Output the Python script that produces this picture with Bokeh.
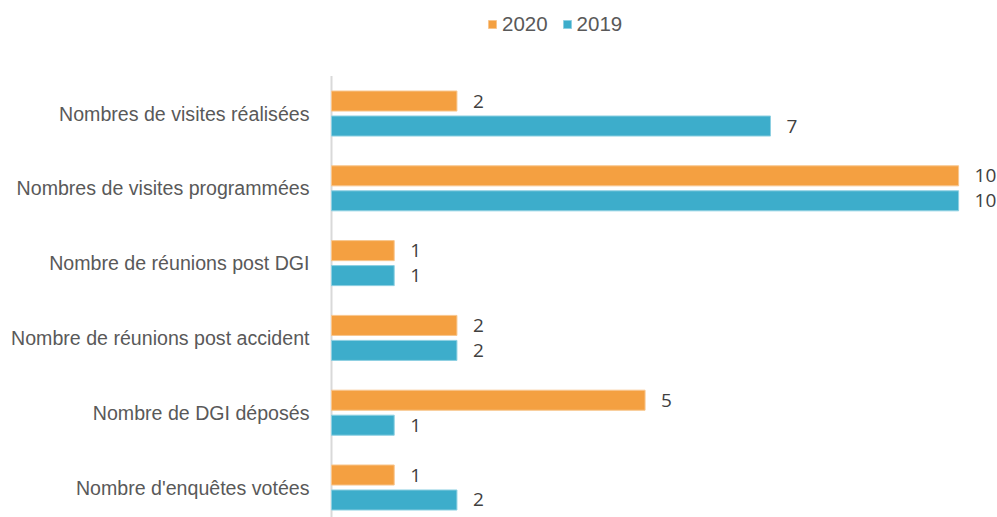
from bokeh.plotting import figure
from bokeh.models import ColumnDataSource, Range1d, FixedTicker, Legend, LegendItem
from bokeh.core.properties import value
from bokeh.embed import file_html
from bokeh.resources import INLINE

categories = [
    "Nombres de visites réalisées",
    "Nombres de visites programmées",
    "Nombre de réunions post DGI",
    "Nombre de réunions post accident",
    "Nombre de DGI déposés",
    "Nombre d'enquêtes votées",
]
values_2020 = [2, 10, 1, 2, 5, 1]
values_2019 = [7, 10, 1, 2, 1, 2]
series_names = ["2020", "2019"]
colors = ["#F4A041", "#3DADCB"]
border_colors = ["#F8C68E", "#8ED0E2"]

idx = list(range(len(categories)))
W, H = 997, 517
p = figure(width=W, height=H, output_backend="svg", toolbar_location=None,
           x_range=Range1d(-0.032, 10.62), y_range=Range1d(5.401, -1.511),
           min_border_left=329, min_border_right=0, min_border_top=0, min_border_bottom=0)
p.outline_line_color = None
p.xgrid.visible = False
p.ygrid.visible = False
p.xaxis.visible = False
p.background_fill_color = "white"
p.border_fill_color = "white"

# vertical axis line (value 0), from the top of the category band to the bottom
p.segment(x0=[0], y0=[-0.5], x1=[0], y1=[len(categories)], line_color="#D9D9D9", line_width=2)

off = 0.167
bh = 0.268
renderers = []
for k, (vals, name) in enumerate([(values_2020, "2020"), (values_2019, "2019")]):
    o = -off if k == 0 else off
    src = ColumnDataSource(dict(y=[i + o for i in idx], v=vals, t=[str(v) for v in vals]))
    r = p.hbar(y="y", right="v", left=0, height=bh, source=src,
               fill_color=colors[k], line_color=border_colors[k], line_width=1)
    renderers.append(r)
    p.text(x="v", y="y", text="t", source=src, x_offset=16,
           text_align="left", text_baseline="middle",
           text_font=value("Open Sans"), text_font_size="19px", text_color="#404040")

yax = p.yaxis[0]
yax.ticker = FixedTicker(ticks=idx)
yax.major_label_overrides = {i: c for i, c in zip(idx, categories)}
yax.major_label_text_font = "Liberation Sans"
yax.major_label_text_font_size = "19.6px"
yax.major_label_text_color = "#595959"
yax.major_label_standoff = 14
yax.major_tick_line_color = None
yax.minor_tick_line_color = None
yax.axis_line_color = None

legend = Legend(items=[LegendItem(label=n, renderers=[r]) for n, r in zip(series_names, renderers)],
                orientation="horizontal", location=(158, 481),
                glyph_width=10, glyph_height=10, label_standoff=5, spacing=14,
                padding=0, margin=0, border_line_color=None, background_fill_alpha=0,
                label_text_font="Liberation Sans", label_text_font_size="20.5px",
                label_text_color="#595959")
p.add_layout(legend, "center")

open("out.html", "w").write(file_html(p, INLINE))
